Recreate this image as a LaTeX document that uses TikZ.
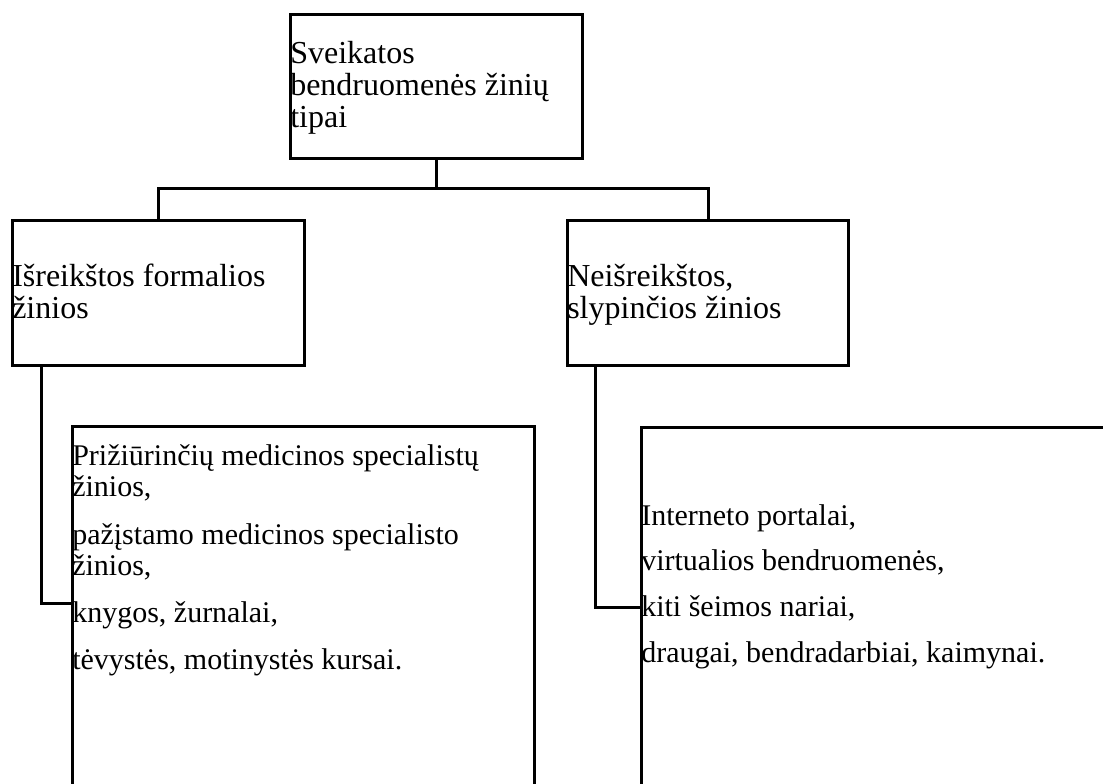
\documentclass[tikz,border=0pt]{standalone}
\usepackage{fontspec}
\setmainfont{Liberation Serif}
\usetikzlibrary{calc}
\begin{document}
\begin{tikzpicture}[x=0.75pt,y=-0.75pt,
  box/.style={draw,line width=2.25pt,rectangle,inner sep=0pt,anchor=north west},
  link/.style={draw,line width=2.25pt},
  upper/.style={inner sep=0pt,anchor=base west,font=\fontsize{24pt}{24pt}\selectfont},
  lower/.style={inner sep=0pt,anchor=base west,font=\fontsize{22.5pt}{23.25pt}\selectfont}]
\clip (0,0) rectangle (1103,783);
\fill[white] (0,0) rectangle (1103,783);

% boxes
\node[box,minimum width=219pt,minimum height=108pt] (top) at (289,13) {};
\node[box,minimum width=219pt,minimum height=108.75pt] (midL) at (11,219) {};
\node[box,minimum width=210.75pt,minimum height=108.75pt] (midR) at (566,219) {};
\node[box,minimum width=346.5pt,minimum height=281.25pt] (botL) at (71,425) {};
\node[box,minimum width=367.5pt,minimum height=280.5pt] (botR) at (640,426) {};

% texts
\node[upper] (tTop) at (290,63) {\begin{tabular}[t]{@{}l@{}}Sveikatos\\bendruomenės žinių\\tipai\end{tabular}};
\node[upper] (tMidL) at (12,286) {\begin{tabular}[t]{@{}l@{}}Išreikštos formalios\\žinios\end{tabular}};
\node[upper] (tMidR) at (567,286) {\begin{tabular}[t]{@{}l@{}}Neišreikštos,\\slypinčios žinios\end{tabular}};
\node[lower] (tBotL) at (72,465) {\begin{tabular}[t]{@{}l@{}}Prižiūrinčių medicinos specialistų\\žinios,\\[13pt]pažįstamo medicinos specialisto\\žinios,\\[12pt]knygos, žurnalai,\\[12pt]tėvystės, motinystės kursai.\end{tabular}};
\node[lower] (tBotR) at (641,525) {\begin{tabular}[t]{@{}l@{}}Interneto portalai,\\[11pt]virtualios bendruomenės,\\[11pt]kiti šeimos nariai,\\[11pt]draugai, bendradarbiai, kaimynai.\end{tabular}};

% connectors
\coordinate (bus) at (top.south |- 0,188);
\draw[link] (top.south) -- (bus);
\draw[link] (midL.north) -- (midL.north |- bus) -- (midR.north |- bus) -- (midR.north);
\coordinate (jL) at ($(midL.south west)+(30,0)$);
\coordinate (eL) at (botL.west |- 0,603);
\draw[link] (jL) |- (eL);
\coordinate (jR) at ($(midR.south west)+(29,0)$);
\coordinate (eR) at (botR.west |- 0,607);
\draw[link] (jR) |- (eR);
\end{tikzpicture}
\end{document}
